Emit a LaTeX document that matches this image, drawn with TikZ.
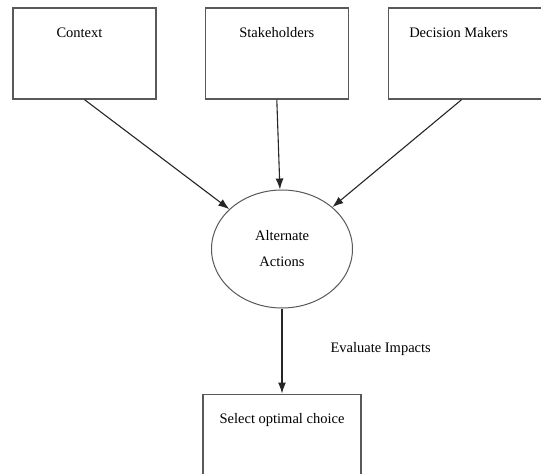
\documentclass[tikz,border=0pt]{standalone}
\usepackage{fontspec}
\setmainfont{Liberation Serif}
\usetikzlibrary{shapes.geometric, arrows.meta, positioning}

\tikzset{
  factor/.style={rectangle, draw=black!65, line width=1.3pt, minimum width=143pt, minimum height=91pt, inner sep=0pt},
  caption/.style={font=\fontsize{14.5}{17}\selectfont, text height=10pt, text depth=3pt, inner sep=0pt},
  action/.style={ellipse, draw=black!65, line width=1pt, minimum width=141pt, minimum height=118pt, align=center, font=\fontsize{14.5}{17}\selectfont},
  flow/.style={draw=black!85, line width=1.1pt, -{Latex[length=11pt,width=8pt]}}
}

\begin{document}
\begin{tikzpicture}[x=1pt, y=-1pt]
\useasboundingbox (0,0) rectangle (541,474);
\fill[white] (0,0) rectangle (541,474);
\clip (0,0) rectangle (541,474);

\node[factor, label={[caption, anchor=north, yshift=-20pt, xshift=-5pt]north:Context}] (context) at (84.5,53.5) {};
\node[factor, right=48pt of context, label={[caption, anchor=north, yshift=-20pt]north:Stakeholders}] (stakeholders) {};
\node[factor, minimum width=158pt, right=39pt of stakeholders, label={[caption, anchor=north, yshift=-20pt, xshift=-9pt]north:Decision Makers}] (makers) {};

\node[action] (actions) at (282,249) {Alternate\\[9pt]Actions};
\node[factor, minimum width=158pt, minimum height=100pt, below=85pt of actions, label={[caption, anchor=north, yshift=-20pt]north:Select optimal choice}] (choice) {};

\draw[flow] (context.south) -- (actions);
\draw[flow] (stakeholders.south) -- (actions);
\draw[flow] ([xshift=-6pt]makers.south) -- (actions);
\draw[flow] (actions) -- node[caption, anchor=west, xshift=48pt, yshift=2pt] {Evaluate Impacts} (choice);
\end{tikzpicture}
\end{document}
